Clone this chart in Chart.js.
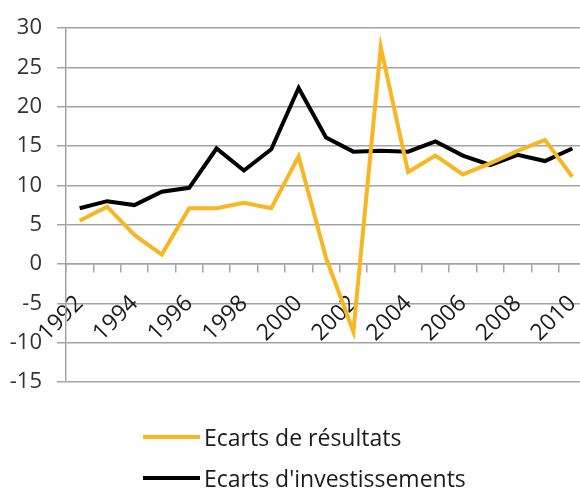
<!DOCTYPE html>
<html>
<head>
<meta charset="utf-8">
<script src="https://cdn.jsdelivr.net/npm/chart.js@4.4.0/dist/chart.umd.min.js"></script>
<style>
  body { margin: 0; overflow: hidden; background: #fff; font-family: 'Open Sans', sans-serif; }
  #wrap { position: relative; width: 580px; height: 497px; overflow: hidden; }
  #legend { position: absolute; left: 143px; top: 416px; }
  .item { display: flex; align-items: center; height: 41px; font-size: 23px; color: #1a1a1a; }
  .swatch { width: 57px; height: 4px; margin-right: 4px; }
</style>
</head>
<body>
<div id="wrap">
  <canvas id="chart" width="595" height="497"></canvas>
  <div id="legend"></div>
</div>
<script>
// years on the x axis
const years = ['1992','1993','1994','1995','1996','1997','1998','1999','2000','2001',
  '2002','2003','2004','2005','2006','2007','2008','2009','2010']
// Ecarts de résultats
const resultats = [5.5, 7.3, 3.7, 1.2, 7.1, 7.1, 7.8, 7.1, 13.7, 0.8,
  -8.6, 27.6, 11.7, 13.8, 11.4, 12.8, 14.4, 15.8, 11.1]
// Ecarts d'investissements
const investissements = [7.1, 8.0, 7.5, 9.2, 9.7, 14.7, 11.9, 14.6, 22.4, 16.1,
  14.3, 14.4, 14.3, 15.6, 13.8, 12.6, 13.9, 13.1, 14.7]
const seriesNames = ['Ecarts de résultats', "Ecarts d'investissements"]
const seriesColors = ['#f8b622', '#000000']
const yTicks = [-15, -10, -5, 0, 5, 10, 15, 20, 25, 30]

const gridGray = '#a3a3a3'

new Chart(document.getElementById('chart'), {
  type: 'line',
  data: {
    labels: years,
    datasets: [
      { label: seriesNames[0], data: resultats, borderColor: seriesColors[0], borderWidth: 4, pointRadius: 0, tension: 0 },
      { label: seriesNames[1], data: investissements, borderColor: seriesColors[1], borderWidth: 4, pointRadius: 0, tension: 0 }
    ]
  },
  options: {
    responsive: false,
    animation: false,
    layout: { padding: { top: 22, right: 9, bottom: 115, left: 0 } },
    plugins: { legend: { display: false }, tooltip: { enabled: false } },
    scales: {
      x: {
        position: { y: 0 },
        offset: true,
        // rotated labels shouldn't squeeze the plot sideways
        afterFit: (s) => { s.paddingLeft = 0; s.paddingRight = 0 },
        grid: { offset: true, drawOnChartArea: false, drawTicks: true, tickLength: 8, color: gridGray, lineWidth: 1.5 },
        border: { color: gridGray, width: 1.5 },
        ticks: {
          autoSkip: false,
          minRotation: 45,
          maxRotation: 45,
          padding: 18,
          color: '#1a1a1a',
          font: { family: 'Open Sans', size: 23 },
          callback: (v, i) => (i % 2 === 0 ? years[i] : '')
        }
      },
      y: {
        min: -15,
        max: 30,
        afterFit: (s) => { s.width = 66 },
        afterBuildTicks: (s) => { s.ticks = yTicks.map(v => ({ value: v })) },
        grid: { color: gridGray, lineWidth: 1.5, tickLength: 9 },
        border: { color: gridGray, width: 1.5 },
        ticks: { padding: 15, color: '#333', font: { family: 'Open Sans', size: 22 } }
      }
    }
  }
})

// legend as plain text rows under the chart
const legend = document.getElementById('legend')
seriesNames.forEach((name, i) => {
  const row = document.createElement('div')
  row.className = 'item'
  row.innerHTML = '<span class="swatch" style="background:' + seriesColors[i] + '"></span><span>' + name + '</span>'
  legend.appendChild(row)
})
</script>
</body>
</html>
